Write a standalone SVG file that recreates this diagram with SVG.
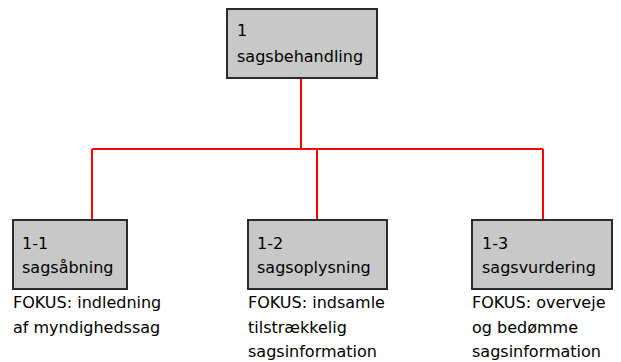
<svg xmlns="http://www.w3.org/2000/svg" width="621" height="362" viewBox="0 0 621 362">
<style>
.box{fill:#c8c8c8;stroke:#2b2b2b;stroke-width:2}
.t{font-family:"DejaVu Sans",Tahoma,sans-serif;font-size:16px;fill:#000}
.c{fill:none;stroke:#ff0000;stroke-width:2}
</style>
<rect width="621" height="362" fill="#fff"/>
<g id="connectors">
<path class="c" d="M301 78V149M92 149H543M92 149V220M317 149V220M543 149V220"/>
</g>
<g id="n1">
<rect class="box" x="227" y="9" width="150" height="69"/>
<text class="t" x="237" y="36">1</text>
<text class="t" x="237" y="62">sagsbehandling</text>
</g>
<g id="n11">
<rect class="box" x="13" y="220" width="114" height="69"/>
<text class="t" x="22" y="249">1-1</text>
<text class="t" x="22" y="273">sagsåbning</text>
<text class="t" x="13" y="308">FOKUS: indledning</text>
<text class="t" x="13" y="333">af myndighedssag</text>
</g>
<g id="n12">
<rect class="box" x="248" y="220" width="139" height="69"/>
<text class="t" x="257" y="249">1-2</text>
<text class="t" x="257" y="273">sagsoplysning</text>
<text class="t" x="248" y="308">FOKUS: indsamle</text>
<text class="t" x="248" y="333">tilstrækkelig</text>
<text class="t" x="248" y="357">sagsinformation</text>
</g>
<g id="n13">
<rect class="box" x="472" y="220" width="140" height="69"/>
<text class="t" x="482" y="249">1-3</text>
<text class="t" x="482" y="273">sagsvurdering</text>
<text class="t" x="472" y="308">FOKUS: overveje</text>
<text class="t" x="472" y="333">og bedømme</text>
<text class="t" x="472" y="357">sagsinformation</text>
</g>
</svg>
